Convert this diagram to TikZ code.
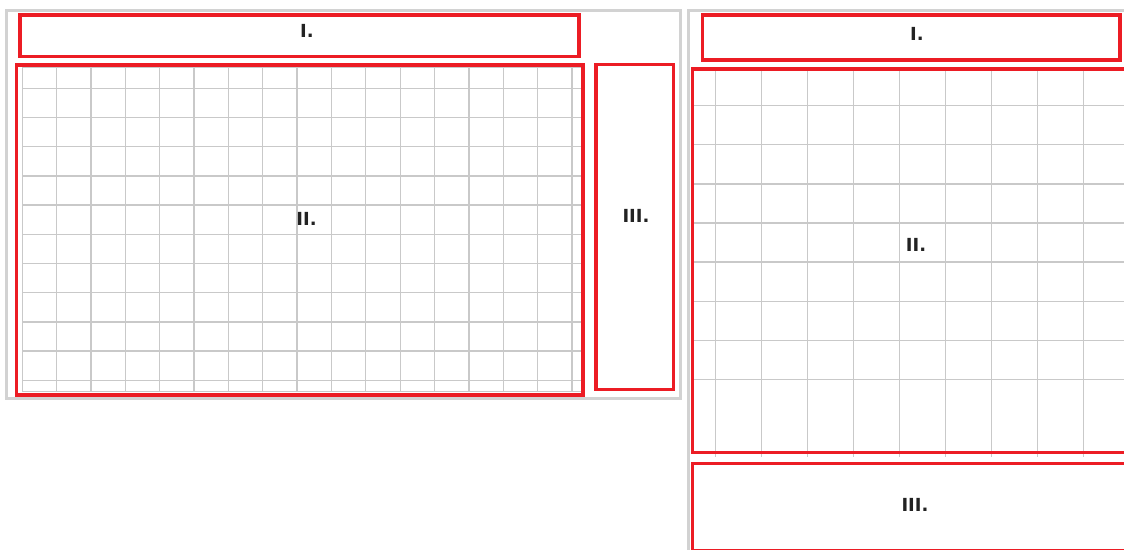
\documentclass[tikz,border=0pt]{standalone}
\usepackage{fontspec}
\setmainfont{DejaVu Sans}
\usetikzlibrary{positioning}
\definecolor{zonered}{HTML}{EC1C24}
\definecolor{framegray}{HTML}{D2D2D2}
\definecolor{gridgray}{HTML}{C9C9C9}
\definecolor{lbltext}{HTML}{222222}

\begin{document}
\begin{tikzpicture}[x=1pt, y=-1pt,
  frame/.style={framegray, line width=3pt},
  zone/.style={zonered, line width=3.5pt},
  gridline/.style={gridgray, line width=1.3pt},
  lbl/.style={font=\fontsize{18}{18}\selectfont\bfseries, text=lbltext, inner sep=0pt}]

\useasboundingbox (0,0) rectangle (1124,549);
\clip (0,0) rectangle (1124,549);

% =========== LEFT: wide layout ===========
\draw[frame] (6.5,10.5) rectangle (680,398);

% Grid behind zone II
\foreach \x in {0,...,16} {
  \draw[gridline] ({22.3+34.35*\x},67) -- ({22.3+34.35*\x},391.5);
}
\foreach \y in {0,...,10} {
  \draw[gridline] (22.3,{88.3+29.2*\y}) -- (581.7,{88.3+29.2*\y});
}
\draw[gridline] (22.3,67) rectangle (581.7,391.5);

% Zones
\draw[zone] (20,15) rectangle (579,56.5);
\draw[zone] (16.5,65) rectangle (583,395);
\draw[zone] (596,64.5) rectangle (673.5,389.5);

\node[lbl] (lI) at (307,31) {I.};
\node[lbl] (lII) at (306.5,218.5) {II.};
\node[lbl] (lIII) at (636,216) {III.};

% =========== RIGHT: narrow layout ===========
\draw[frame] (688.5,10.5) rectangle (1140,570);

% Grid behind zone II
\foreach \x in {0,...,8} {
  \draw[gridline] ({715.7+46*\x},69) -- ({715.7+46*\x},456.7);
}
\foreach \y in {0,...,7} {
  \draw[gridline] (694,{105.7+39.1*\y}) -- (1130,{105.7+39.1*\y});
}

% Zones
\draw[zone] (702.5,15) rectangle (1120,60);
\draw[zone] (692.5,69) rectangle (1140,452.5);
\draw[zone] (692.5,463.5) rectangle (1140,550.5);

\node[lbl] (rI) at (917,34) {I.};
\node[lbl] (rII) at (916,245) {II.};
\node[lbl] (rIII) at (915,505) {III.};

\end{tikzpicture}
\end{document}
